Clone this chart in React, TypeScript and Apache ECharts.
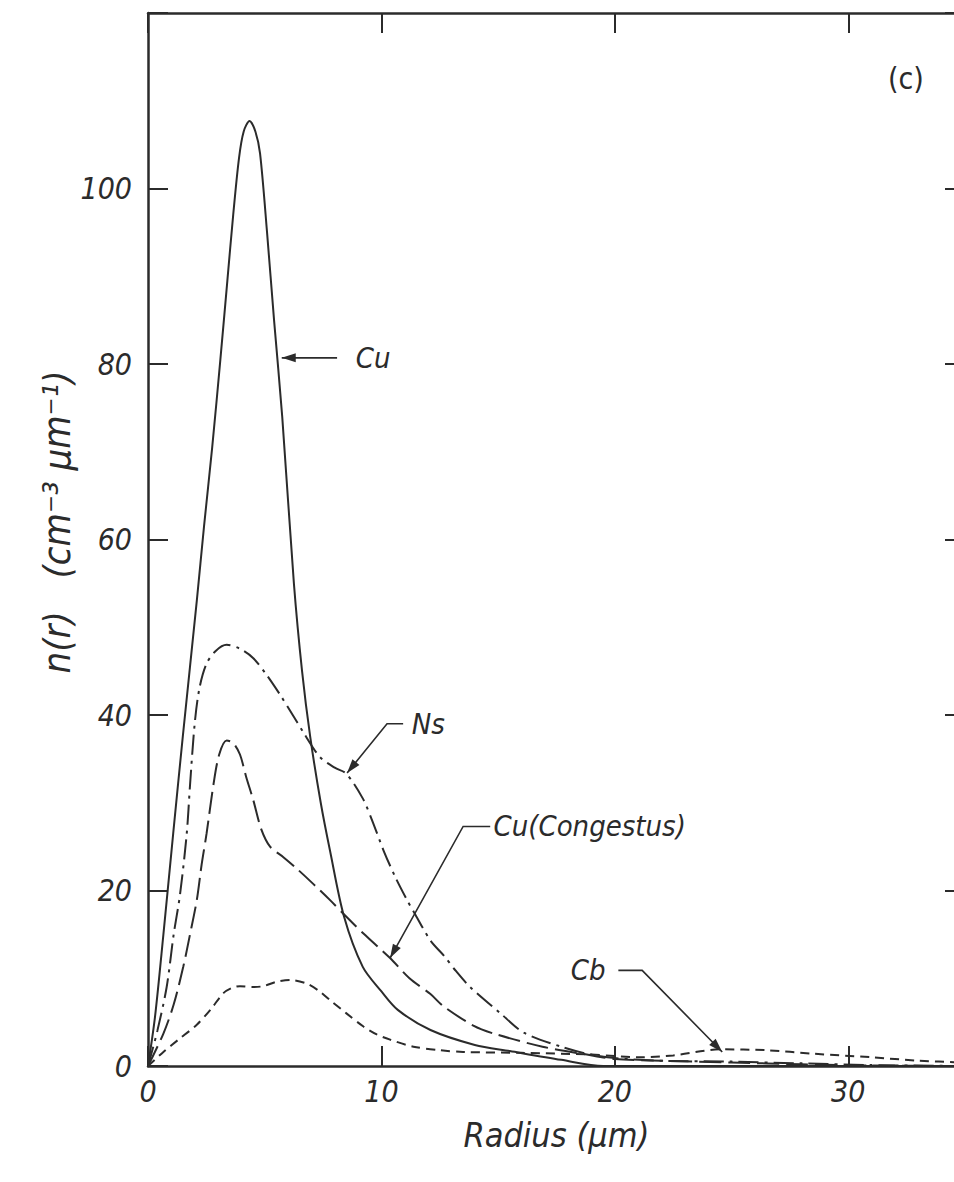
import React, { useEffect, useRef } from "react";
import * as echarts from "echarts";

// ---- tick labels ----
const xTickLabels = ["0", "10", "20", "30"];
const yTickLabels = ["0", "20", "40", "60", "80", "100"];

// ---- series (radius in µm, n(r) in cm^-3 µm^-1) ----
const cuData: [number, number][] = [
  [0, 0], [0.3, 5.6], [0.66, 15], [1.08, 26.5], [1.5, 37.8], [2.09, 53], [2.4, 61.5],
  [2.75, 70.5], [3.1, 80.5], [3.4, 89.5], [3.65, 97], [3.9, 103.5], [4.1, 106.5],
  [4.35, 107.7], [4.6, 106.5], [4.8, 104], [5.1, 95], [5.4, 85], [5.75, 74], [6.25, 55],
  [6.6, 45], [6.95, 37.5], [7.4, 30], [7.8, 24.5], [8.4, 17], [9.2, 11.3], [10, 8.5],
  [10.7, 6.4], [12.1, 4.1], [14, 2.4], [15.5, 1.7], [17.7, 0.7], [19.5, 0], [25, 0], [35, 0],
];
const nsData: [number, number][] = [
  [0, 0], [0.4, 4], [0.8, 9], [1.1, 15], [1.37, 19.5], [1.66, 26.5], [1.8, 32], [2.0, 39],
  [2.2, 43], [2.5, 45.8], [2.9, 47.3], [3.37, 48], [3.9, 47.6], [4.5, 46.5], [5.1, 44.5],
  [5.66, 42.3], [6.2, 40], [6.66, 38], [7.37, 35.2], [8, 34], [8.5, 33.3], [9.2, 30.5],
  [9.6, 28], [10.1, 24.5], [10.6, 21.5], [11.1, 18.9], [11.4, 17.5], [12.1, 14.3],
  [12.7, 12.5], [13.2, 10.8], [13.8, 9.0], [15.1, 6], [16.1, 3.8], [17.7, 2.2],
  [18.8, 1.4], [20, 0.9], [22, 0.6], [25, 0.5], [28, 0.3], [31, 0.1], [35, 0],
];
const congestusData: [number, number][] = [
  [0, 0], [0.66, 3.7], [1.1, 7], [1.51, 11.3], [1.8, 15], [2.09, 18.9], [2.3, 23],
  [2.51, 26.5], [2.8, 32], [3.05, 35.5], [3.37, 37.1], [3.65, 36.8], [3.94, 35.5],
  [4.2, 33], [4.51, 30.3], [4.85, 27], [5.23, 25], [5.8, 23.8], [6.37, 22.5], [7.1, 20.7],
  [7.8, 18.9], [8.5, 17], [9.23, 15.1], [10.37, 12.3], [11.2, 10], [12.1, 8.2],
  [12.66, 6.8], [13.94, 4.6], [14.8, 3.7], [16.9, 2.2], [18.8, 1.3], [20, 0.8],
  [22, 0.6], [25, 0.4], [28, 0.2], [31, 0.05], [35, 0],
];
const cbData: [number, number][] = [
  [0, 0], [0.66, 1.6], [1.3, 3], [2.09, 4.7], [2.7, 6.5], [3.23, 8.3], [3.6, 8.9],
  [3.94, 9.1], [4.5, 9.0], [4.94, 9.1], [5.5, 9.6], [6.09, 9.8], [6.8, 9.4], [7.3, 8.6],
  [7.8, 7.5], [8.5, 6], [9.23, 4.5], [9.8, 3.6], [10.37, 3.0], [11.37, 2.2], [12.5, 1.8],
  [13.5, 1.6], [16, 1.5], [19, 1.3], [21, 1.0], [22.5, 1.2], [24.5, 1.9], [26.5, 1.8],
  [28.5, 1.4], [31, 1.0], [33, 0.6], [35, 0.4],
];

// ---- annotations (data coordinates) ----
const cuNote = { text: "Cu", tip: [5.73, 80.7], path: [[8.1, 80.7]], label: [8.9, 80.7], align: "left" };
const nsNote = { text: "Ns", tip: [8.53, 33.4], path: [[10.24, 39], [10.93, 39]], label: [11.3, 39], align: "left" };
const congNote = { text: "Cu(Congestus)", tip: [10.37, 12.3], path: [[13.5, 27.3], [14.66, 27.3]], label: [14.8, 27.3], align: "left" };
const cbNote = { text: "Cb", tip: [24.6, 1.6], path: [[21.17, 10.9], [20.15, 10.9]], label: [19.6, 10.9], align: "right" };
const panelTag = { text: "(c)", at: [31.7, 112.5] };
const yTitle = { text: "n(r)   (cm⁻³ μm⁻¹)", at: [-4.0, 62] };

const INK = "#2b2b2b";
const FONT = "'Liberation Sans Narrow','DejaVu Sans Condensed','Liberation Sans',sans-serif";
const labelStyle = { fontStyle: "italic", fontFamily: FONT, color: INK };

export default function App() {
  const ref = useRef<HTMLDivElement>(null);
  useEffect(() => {
    const chart = echarts.init(ref.current!, null, { renderer: "svg" });
    const axisCommon = {
      type: "value",
      axisLine: { show: true, onZero: false, lineStyle: { color: INK, width: 2.5 } },
      axisTick: { show: true, inside: true, length: 20, lineStyle: { color: INK, width: 2 } },
      splitLine: { show: false },
    };
    const option: any = {
      animation: false,
      backgroundColor: "#fff",
      grid: {
        left: 148, top: 13, width: 817, height: 1053,
        containLabel: false, outerBoundsMode: "none",
      },
      xAxis: [
        {
          ...axisCommon, min: 0, max: 35, interval: 10, position: "bottom",
          axisLabel: {
            ...labelStyle, fontSize: 30, margin: 10,
            formatter: (v: number) => (xTickLabels.includes(String(v)) ? String(v) : ""),
          },
          name: "Radius (μm)", nameLocation: "middle", nameGap: 52,
          nameTextStyle: { ...labelStyle, fontSize: 34 },
        },
        {
          ...axisCommon, min: 0, max: 35, interval: 10, position: "top",
          axisLabel: { show: false },
        },
      ],
      yAxis: [
        {
          ...axisCommon, min: 0, max: 120, interval: 20, position: "left",
          axisLabel: {
            ...labelStyle, fontSize: 30, margin: 16,
            formatter: (v: number) => (yTickLabels.includes(String(v)) ? String(v) : ""),
          },
        },
        {
          ...axisCommon, min: 0, max: 120, interval: 20, position: "right",
          axisLabel: { show: false },
        },
      ],
      series: [
        { name: "Cu", data: cuData, lt: "solid" },
        { name: "Ns", data: nsData, lt: [20, 6, 3, 6] },
        { name: "Cu(Congestus)", data: congestusData, lt: [22, 7] },
        { name: "Cb", data: cbData, lt: [9, 6] },
      ].map((s: any) => ({
        name: s.name,
        type: "line",
        xAxisIndex: 0,
        yAxisIndex: 0,
        data: s.data,
        showSymbol: false,
        smooth: 0.3,
        lineStyle: { color: INK, width: 2, type: s.lt },
      })),
    };
    chart.setOption(option);

    const P = (p: number[]) => chart.convertToPixel({ seriesIndex: 0 }, p) as number[];
    const graphics: any[] = [];
    const arrowHead = (tip: number[], from: number[]) => {
      const dx = tip[0] - from[0];
      const dy = tip[1] - from[1];
      const len = Math.hypot(dx, dy) || 1;
      const ux = dx / len, uy = dy / len;
      const L = 14, W = 4.5;
      const bx = tip[0] - ux * L, by = tip[1] - uy * L;
      return {
        type: "polygon",
        shape: { points: [tip, [bx - uy * W, by + ux * W], [bx + uy * W, by - ux * W]] },
        style: { fill: INK },
        z: 10,
      };
    };
    [cuNote, nsNote, congNote, cbNote].forEach((n) => {
      const tip = P(n.tip);
      const pts = [tip, ...n.path.map(P)];
      graphics.push({
        type: "polyline",
        shape: { points: pts },
        style: { stroke: INK, lineWidth: 1.6, fill: null },
        z: 10,
      });
      graphics.push(arrowHead(tip, pts[1]));
      const lp = P(n.label);
      graphics.push({
        type: "text",
        x: lp[0],
        y: lp[1],
        style: {
          text: n.text, fill: INK, fontSize: 29, fontStyle: "italic", fontFamily: FONT,
          align: n.align, verticalAlign: "middle",
        },
        z: 10,
      });
    });
    const tp = P(panelTag.at);
    graphics.push({
      type: "text", x: tp[0], y: tp[1],
      style: { text: panelTag.text, fill: INK, fontSize: 30, fontFamily: FONT, align: "left", verticalAlign: "middle" },
      z: 10,
    });
    const yt = P(yTitle.at);
    graphics.push({
      type: "text", x: yt[0] + 2, y: yt[1], rotation: Math.PI / 2,
      style: {
        text: yTitle.text, fill: INK, fontSize: 38, fontStyle: "italic", fontFamily: FONT,
        align: "center", verticalAlign: "middle",
      },
      z: 10,
    });
    chart.setOption({ graphic: graphics });
    return () => chart.dispose();
  }, []);
  return (
    <div
      ref={ref}
      style={{ position: "fixed", left: 0, top: 0, width: 954, height: 1182, background: "#fff" }}
    />
  );
}
